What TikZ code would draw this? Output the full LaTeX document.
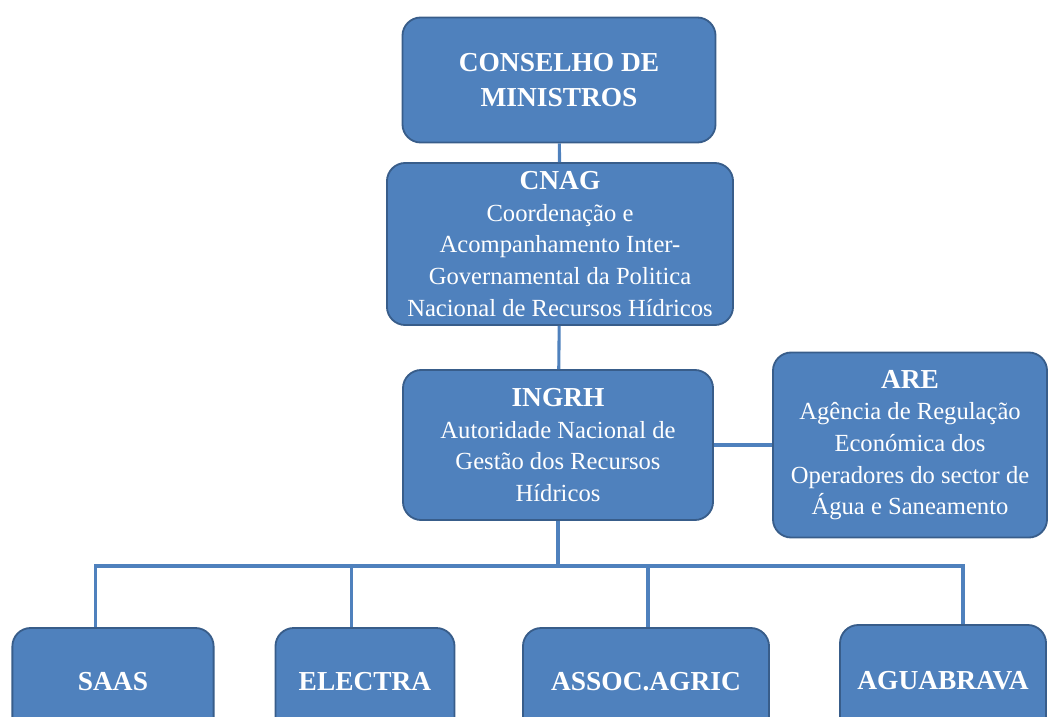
\documentclass[tikz,border=0pt]{standalone}
\usepackage{fontspec}
\setmainfont{Liberation Serif}
\usetikzlibrary{positioning}
\definecolor{boxFill}{RGB}{79,129,189}
\definecolor{boxEdge}{RGB}{56,93,138}
\definecolor{linkCol}{RGB}{79,129,189}
\newcommand{\ttl}[1]{{\fontsize{19.5}{25}\selectfont\bfseries #1}}

\begin{document}
\begin{tikzpicture}[
  x=0.025cm, y=-0.025cm,
  org/.style={rounded corners=13pt, draw=boxEdge, line width=1.3pt, fill=boxFill, text=white, align=center, inner sep=2pt, font=\fontsize{17.5}{22.5}\selectfont},
  head/.style={org, font=\fontsize{19.5}{25}\selectfont\bfseries},
  link/.style={draw=linkCol, line width=2.2pt},
]
\useasboundingbox (0,0) rectangle (1049,716);
\clip (0,0) rectangle (1049,716);

% ---- upper chain ----
\node[head, minimum width=7.825cm, minimum height=3.125cm] (CM) at (559,80) {CONSELHO DE\\MINISTROS};

\node[org, minimum width=8.65cm, minimum height=4.05cm] (CNAG) at (560,244) {%
  \ttl{CNAG}\\
  Coordenação e\\
  Acompanhamento Inter-\\
  Governamental da Politica\\
  Nacional de Recursos Hídricos};

\node[org, minimum width=7.75cm, minimum height=3.75cm] (INGRH) at (558,445) {%
  \ttl{INGRH}\\
  Autoridade Nacional de\\
  Gestão dos Recursos\\
  Hídricos};

% ---- regulator (right) ----
\node[org, minimum width=6.85cm, minimum height=4.625cm] (ARE) at (910,445) {%
  \ttl{ARE}\\
  Agência de Regulação\\
  Económica dos\\
  Operadores do sector de\\
  Água e Saneamento};

% ---- operators (bottom row) ----
\node[head, minimum width=5.03cm, minimum height=2.7cm] (SAAS) at (113,682) {SAAS};
\node[head, minimum width=4.475cm, minimum height=2.7cm] (ELECTRA) at (365,682) {ELECTRA};
\node[head, minimum width=6.15cm, minimum height=2.7cm] (ASSOC) at (646,682) {ASSOC.AGRIC};
\node[head, minimum width=5.15cm, minimum height=2.8cm] (AGUA) at (943,681) {AGUABRAVA};

% ---- connectors ----
\draw[link] (CM) -- (CNAG);
\draw[link] (CNAG) -- (INGRH);
\draw[link] (INGRH) -- (ARE);
\coordinate (bus) at (INGRH.south |- 0,566);
\draw[link] (INGRH.south) -- (bus);
\foreach \c/\dx in {SAAS/-0.43cm, ELECTRA/-0.33cm, ASSOC/0.05cm, AGUA/0.5cm}
  \draw[link] (bus) -| ([xshift=\dx]\c.north);

\end{tikzpicture}
\end{document}
